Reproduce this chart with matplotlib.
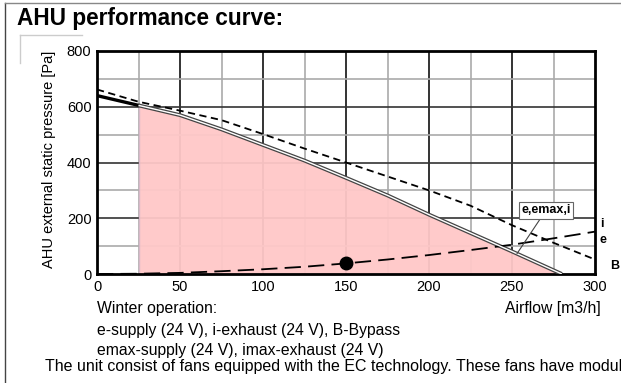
import matplotlib.pyplot as plt
from matplotlib.lines import Line2D

plt.rcParams['font.family'] = ['Liberation Sans', 'DejaVu Sans']

# fan curve e,emax,i (pressure drop with airflow)
fan_flow = [0, 25, 50, 75, 100, 125, 150, 175, 200, 225, 250, 280]
fan_press = [640, 605, 570, 519, 463, 407, 345, 282, 213, 147, 81, 0]

# upper dashed curve
max_flow = [0, 25, 50, 75, 100, 125, 150, 175, 200, 225, 250, 275, 300]
max_press = [662, 618, 586, 552, 502, 450, 400, 350, 300, 245, 175, 112, 52]

# system curve and operating point
sys_flow = [0, 25, 50, 75, 100, 125, 150, 175, 200, 225, 250, 275, 300]
sys_press = [0, 1, 4, 10, 17, 26, 38, 52, 68, 86, 105, 128, 152]
op_flow, op_press = 150, 38

# usable region starts here
fill_start = 25

fig = plt.figure(figsize=(6.21, 3.83), dpi=100)
ax = fig.add_axes([97 / 621, 1 - 274 / 383, 498 / 621, 223 / 383])

ax.set_xlim(0, 300)
ax.set_ylim(0, 800)

# grid
for x in range(25, 300, 50):
    ax.axvline(x, color='#aaaaaa', lw=1.2, zorder=1)
for x in range(50, 300, 50):
    ax.axvline(x, color='#111111', lw=1.2, zorder=1)
for y in range(100, 800, 200):
    ax.axhline(y, color='#aaaaaa', lw=1.2, zorder=1)
for y in range(200, 800, 200):
    ax.axhline(y, color='#333333', lw=1.2, zorder=1)

# pink working area under the fan curve
fx = [f for f in fan_flow if f >= fill_start]
fy = [p for f, p in zip(fan_flow, fan_press) if f >= fill_start]
ax.fill_between(fx, fy, 0, color='#ffc8c8', lw=0, zorder=2, alpha=0.95)
ax.plot([fill_start, fill_start], [0, fy[0]], color='#d8b8c8', lw=1, zorder=2)

# fan curve: thick solid start, then a double line
ax.plot(fan_flow[:2], fan_press[:2], color='black', lw=2.4, zorder=4)
ax.plot(fx, fy, color='#444444', lw=2.8, zorder=4, solid_capstyle='butt')
ax.plot(fx, fy, color='white', lw=1.0, zorder=5, solid_capstyle='butt')

ax.plot(max_flow, max_press, color='black', lw=1.3, ls=(0, (4, 2.5)), zorder=4)
ax.plot(sys_flow, sys_press, color='black', lw=1.3, ls=(0, (9, 4)), zorder=4)
ax.plot(op_flow, op_press, 'o', color='black', ms=9, zorder=6)

ax.annotate('e,emax,i', xy=(253, 73), xytext=(270.5, 229),
            fontsize=9, fontweight='bold', ha='center', va='center',
            bbox=dict(boxstyle='square,pad=0.2', fc='white', ec='#666666', lw=0.8),
            arrowprops=dict(arrowstyle='-', color='#444444', lw=0.8,
                            shrinkA=0, shrinkB=0), zorder=7)

for s in ax.spines.values():
    s.set_linewidth(2)
ax.set_xticks(range(0, 301, 50))
ax.set_yticks(range(0, 801, 200))
ax.tick_params(length=0, labelsize=10.5, pad=4)

fig.text(49 / 621, 1 - 159 / 383, 'AHU external static pressure [Pa]', fontsize=10.5,
         rotation=90, ha='center', va='center')

# curve tags to the right of the axes
fig.text(600 / 621, 1 - 224 / 383, 'i', fontsize=9, fontweight='bold', va='center')
fig.text(599 / 621, 1 - 240 / 383, 'e', fontsize=9, fontweight='bold', va='center')
fig.text(610 / 621, 1 - 266 / 383, 'B', fontsize=9, fontweight='bold', va='center')

fig.text(17 / 621, 1 - 19 / 383, 'AHU performance curve:', fontsize=16.3,
         fontweight='bold', va='center')
fig.text(97 / 621, 1 - 309 / 383, 'Winter operation:', fontsize=11.3, va='center')
fig.text(601 / 621, 1 - 309 / 383, 'Airflow [m3/h]', fontsize=11.3, va='center', ha='right')
fig.text(97 / 621, 1 - 330 / 383, 'e-supply (24 V), i-exhaust (24 V), B-Bypass',
         fontsize=11.3, va='center')
fig.text(97 / 621, 1 - 351 / 383, 'emax-supply (24 V), imax-exhaust (24 V)',
         fontsize=11.3, va='center')
fig.text(45 / 621, 1 - 366 / 383,
         'The unit consist of fans equipped with the EC technology. These fans have modul',
         fontsize=11.5, va='center')

# page frame and corner mark
fig.add_artist(Line2D([5 / 621, 5 / 621], [0, 1 - 2.5 / 383], color='#444444', lw=1))
fig.add_artist(Line2D([5 / 621, 1], [1 - 2.5 / 383, 1 - 2.5 / 383], color='#888888', lw=1))
fig.add_artist(Line2D([20 / 621, 82 / 621], [1 - 35 / 383, 1 - 35 / 383], color='#cccccc', lw=1))
fig.add_artist(Line2D([20 / 621, 20 / 621], [1 - 35 / 383, 1 - 63 / 383], color='#cccccc', lw=1))

fig.savefig('out.png', dpi=100)
